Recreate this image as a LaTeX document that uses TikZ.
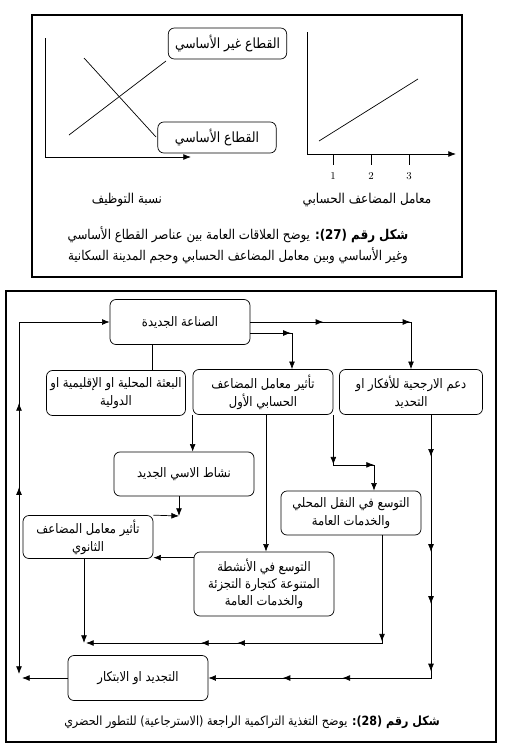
\documentclass[tikz,border=0pt]{standalone}
\usepackage{fontspec}
\newfontfamily\arabicfont[Script=Arabic,FakeStretch=0.88]{DejaVu Sans}
\TeXXeTstate=1
\usetikzlibrary{arrows.meta,calc,decorations.markings}
\newcommand{\ar}[1]{\hbox{\beginR #1\endR}}
\newcommand{\arsize}[1]{\fontsize{#1}{1.2\dimexpr #1pt\relax}\selectfont}
\tikzset{
        box/.style = {draw, rounded corners=0.18cm, align=center, inner sep=1pt,
            font=\arabicfont\arsize{11.2}, minimum width=4.2cm, minimum height=1.35cm},
        tag/.style = {draw, rounded corners=0.18cm, inner sep=1pt,
            font=\arabicfont\arsize{12}, minimum width=3.55cm, minimum height=0.93cm},
        lbl/.style = {inner sep=0pt, font=\arabicfont\arsize{11.6}},
        midarr/.style = {postaction={decorate, decoration={markings,
            mark=at position #1 with {\arrow{>}}}}},
        midarrup/.style = {postaction={decorate, decoration={markings,
            mark=at position #1 with {\arrowreversed{>}}}}}
    }

\begin{document}
\begin{tikzpicture}[x=0.03cm, y=-0.03cm, line width=0.6pt,
            >={Latex[length=6.5pt,width=5pt]}]
    \useasboundingbox (0,0) rectangle (515,756);

    % figure 27
    \draw[line width=1.1pt] (32,15) rectangle (462,277);
    \draw[->] (45,38) -- (45,157) -- (191,157);
    \draw (84,58) -- (156,137);
    \draw (69,135) -- (166,61);
    \node [tag] (nonbase) at (227.5,43.5) {\ar{القطاع غير الأساسي}};
    \node [tag] (base) at (217,137.5) {\ar{القطاع الأساسي}};
    \draw[->] (307,32) -- (307,154) -- (456,154);
    \foreach \x/\n in {333/1, 371/2, 409/3} {
        \draw (\x,154) -- (\x,165);
        \node [font=\small] at (\x,176) {\n};
    }
    \draw (319,141) -- (418,79);
    \node [lbl] (xlab1) at (127,200) {\ar{نسبة التوظيف}};
    \node [lbl] (xlab2) at (367,200) {\ar{معامل المضاعف الحسابي}};
    \node [lbl, align=center, font=\arabicfont\arsize{11.5}] (cap27) at (238,245)
        {\ar{{\bfseries شكل رقم (\beginL 27\endL):} يوضح العلاقات العامة بين عناصر القطاع الأساسي}\\[4pt]
         \ar{وغير الأساسي وبين معامل المضاعف الحسابي وحجم المدينة السكانية}};

    % figure 28
    \draw[line width=1.1pt] (6,291) rectangle (496,742);
    \node [box] (sinaa) at (180,322) {\ar{الصناعة الجديدة}};
    \node [box, minimum width=4.17cm] (baatha) at (116,393)
        {\ar{البعثة المحلية او الإقليمية او}\\[2pt]\ar{الدولية}};
    \node [box] (athar1) at (263,392)
        {\ar{تأثير معامل المضاعف}\\[2pt]\ar{الحسابي الأول}};
    \node [box, minimum width=4.29cm] (daam) at (411,392)
        {\ar{دعم الارجحية للأفكار او}\\[2pt]\ar{التحديد}};
    \node [box, minimum height=1.32cm] (nashat) at (184,474) {\ar{نشاط الاسي الجديد}};
    \node [box, minimum height=1.32cm] (naql) at (351,513)
        {\ar{التوسع في النقل المحلي}\\[2pt]\ar{والخدمات العامة}};
    \node [box, minimum width=3.9cm, minimum height=1.29cm] (athar2) at (88,537)
        {\ar{تأثير معامل المضاعف}\\[2pt]\ar{الثانوي}};
    \node [box, minimum height=1.92cm] (anshita) at (264,584)
        {\ar{التوسع في الأنشطة}\\[1pt]\ar{المتنوعة كتجارة التجزئة}\\[1pt]\ar{والخدمات العامة}};
    \node [box] (tajdid) at (138,678) {\ar{التجديد او الابتكار}};
    \node [lbl, font=\arabicfont\arsize{10.8}] (cap28) at (252,722)
        {\ar{{\bfseries شكل رقم (\beginL 28\endL):} يوضح التغذية التراكمية الراجعة (الاسترجاعية) للتطور الحضري}};

    % connectors
    \coordinate (loopbot) at (19,674);
    \coordinate (loopin) at (22,678);
    \coordinate (join1) at (179,516);
    \coordinate (join2) at (86,643);
    \coordinate (b1) at ($(sinaa.south)+(-28,0)$);
    \coordinate (a1) at ($(athar1.south)+(3,0)$);
    \coordinate (a2) at ($(athar2.south)+(-4,0)$);
    \coordinate (a3) at ($(anshita.north west)+(0,6)$);
    \draw[<->, midarrup=0.388, midarrup=0.578] (sinaa.west) -| (loopbot);
    \draw[->] (tajdid.west) -- (loopin);
    \draw[->, midarr=0.351, midarr=0.77] (sinaa.east) -| (daam.north);
    \draw[->, midarr=0.52] ($(sinaa.east)+(0,11)$) -| ($(athar1.north)+(29,0)$);
    \draw (b1) -- (b1 |- baatha.north);
    \draw[->] (athar1.south west) -- (athar1.south west |- nashat.north);
    \draw[->] (a1) -- (a1 |- anshita.north);
    \draw[->, midarr=0.427, midarr=0.778] (athar1.south east) -- ++(0,50)
        -| ($(naql.north)+(23,0)$);
    \draw[->, midarr=0.086, midarr=0.282, midarr=0.389, midarr=0.528,
        midarr=0.724, midarr=0.847] ($(daam.south)+(20,0)$) |- (tajdid.east);
    \draw[->, midarr=0.263, midarr=0.625, midarr=0.715]
        ($(naql.south)+(31,0)$) |- (join2);
    \draw[->] (a2) -- (a2 |- join2);
    \draw[->] (a3) -- (a3 -| athar2.east);
    \draw[->] (athar2.north east) -- (join1);
    \draw[->] (nashat.south -| join1) -- (join1);
\end{tikzpicture}
\end{document}
